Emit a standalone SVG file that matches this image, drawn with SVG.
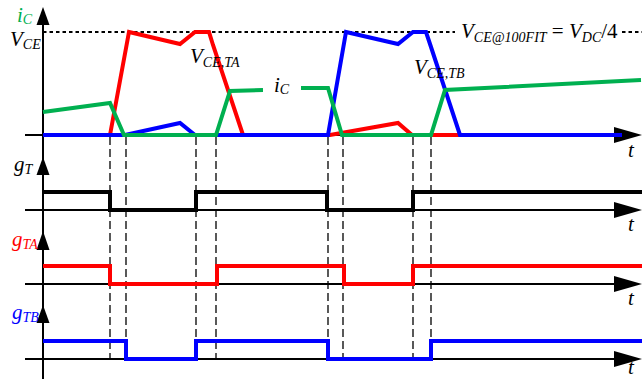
<svg xmlns="http://www.w3.org/2000/svg" width="642" height="379" viewBox="0 0 642 379">
<style>
.ax{stroke:#000;stroke-width:2;fill:none}
.ah{fill:#000}
.sig{fill:none;stroke-width:4;stroke-linejoin:miter}
.dv{stroke:#000;stroke-width:1.3;stroke-dasharray:8,4;fill:none}
.lb{font-family:"Liberation Serif","Times New Roman",serif;font-style:italic;font-size:21px}
.sb{font-size:14px}
</style>
<rect width="642" height="379" fill="#fff"/>
<g id="axes">
  <line class="ax" x1="43" y1="12" x2="43" y2="379"/>
  <polygon class="ah" points="43,7 36.5,25 49.5,25"/>
  <polygon class="ah" points="43,157 36.5,175 49.5,175"/>
  <polygon class="ah" points="43,231 36.5,250 49.5,250"/>
  <polygon class="ah" points="43,305 36.5,323 49.5,323"/>
  <line class="ax" x1="25" y1="135" x2="620" y2="135"/>
  <polygon class="ah" points="642,135 614,127 614,143"/>
  <line class="ax" x1="25" y1="210" x2="620" y2="210"/>
  <polygon class="ah" points="642,210 614,202 614,218"/>
  <line class="ax" x1="25" y1="284" x2="620" y2="284"/>
  <polygon class="ah" points="642,284 614,276 614,292"/>
  <line class="ax" x1="25" y1="359" x2="620" y2="359"/>
  <polygon class="ah" points="642,359 614,351 614,367"/>
</g>
<g id="connectors">
  <line class="dv" x1="110" y1="137" x2="110" y2="360"/>
  <line class="dv" x1="126" y1="137" x2="126" y2="360"/>
  <line class="dv" x1="196" y1="137" x2="196" y2="360"/>
  <line class="dv" x1="216" y1="137" x2="216" y2="360"/>
  <line class="dv" x1="328" y1="137" x2="328" y2="360"/>
  <line class="dv" x1="343" y1="137" x2="343" y2="360"/>
  <line class="dv" x1="413" y1="137" x2="413" y2="360"/>
  <line class="dv" x1="431" y1="137" x2="431" y2="360"/>
  <path d="M43,32 H455 M622,32 H642" stroke="#000" stroke-width="2" stroke-dasharray="3.5,3" fill="none"/>
</g>
<g id="vce_ta">
  <path class="sig" stroke="#ff0000" d="M43,135 L110,135 L129,32 L180,44 L195,32 L209,32 L213,45 L243,135 L330,135 L398,123 L412,135 L620,135"/>
</g>
<g id="vce_tb">
  <path class="sig" stroke="#0000ff" d="M43,135 L125,135 L180,123 L195,135 L328,135 L346,32 L398,44 L413,32 L426,32 L431,47 L460,135 L622,135"/>
</g>
<g id="ic">
  <path class="sig" stroke="#00b050" d="M43,112 L110,103 L124,135 L216,135 L230,91 L263,90 M301,88 L328,88 L342,135 L431,135 L445,90 L641,80"/>
</g>
<g id="gT">
  <path class="sig" stroke="#000" d="M43,192 H110 V210 H196 V192 H327 V210 H413 V192 H642"/>
</g>
<g id="gTA">
  <path class="sig" stroke="#ff0000" d="M43,266 H110 V284 H217 V266 H344 V284 H413 V266 H642"/>
</g>
<g id="gTB">
  <path class="sig" stroke="#0000ff" d="M43,341 H126 V359 H196 V341 H328 V359 H431 V341 H642"/>
</g>
<g id="labels">
  <text class="lb" x="17" y="22" fill="#00b050">i<tspan class="sb" dy="2">C</tspan></text>
  <text class="lb" x="10" y="46">V<tspan class="sb" dy="3">CE</tspan></text>
  <text class="lb" x="190" y="63">V<tspan class="sb" dy="4">CE,TA</tspan></text>
  <text class="lb" x="274" y="92">i<tspan class="sb" dy="2">C</tspan></text>
  <text class="lb" x="414" y="74">V<tspan class="sb" dy="4">CE,TB</tspan></text>
  <text class="lb" x="461" y="38">V<tspan class="sb" font-size="13" dy="4">CE@100FIT</tspan><tspan dy="-4" font-style="normal"> = </tspan>V<tspan class="sb" dy="4">DC</tspan><tspan dy="-4" font-style="normal">/4</tspan></text>
  <text class="lb" x="14" y="171">g<tspan class="sb" dy="3">T</tspan></text>
  <text class="lb" x="12" y="246" fill="#ff0000">g<tspan class="sb" dy="3">TA</tspan></text>
  <text class="lb" x="12" y="319" fill="#0000ff">g<tspan class="sb" dy="3">TB</tspan></text>
  <text class="lb" x="628" y="157">t</text>
  <text class="lb" x="628" y="231">t</text>
  <text class="lb" x="628" y="305">t</text>
  <text class="lb" x="628" y="374" font-size="19">t</text>
</g>
</svg>
